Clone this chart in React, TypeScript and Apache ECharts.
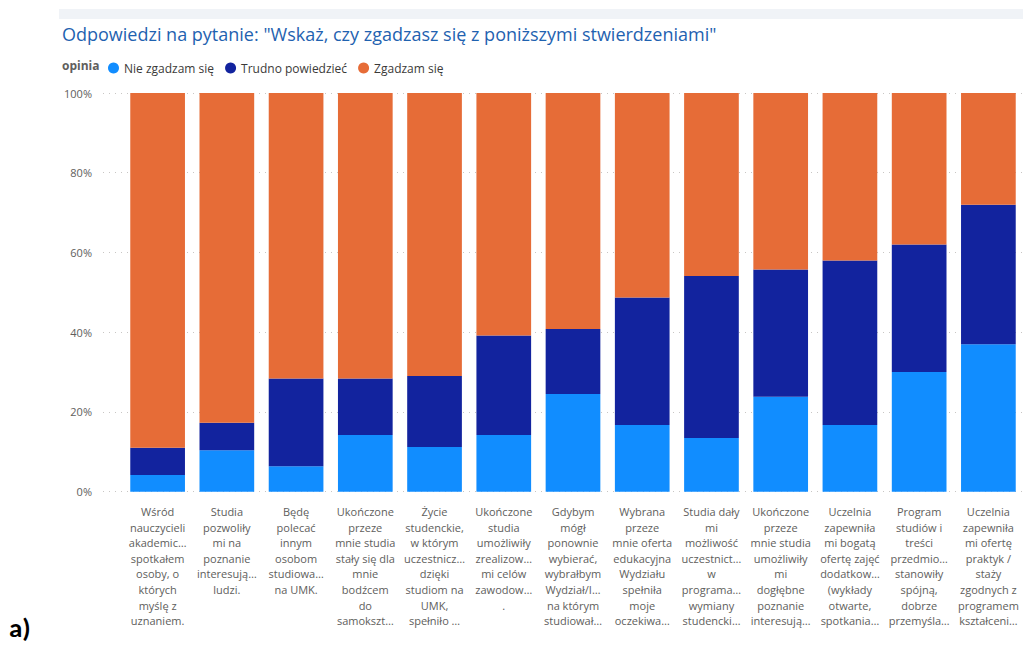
import React, { useEffect, useRef } from "react";
import * as echarts from "echarts";

const categories = [
  "Wśród\nnauczycieli\nakademic…\nspotkałem\nosoby, o\nktórych\nmyślę z\nuznaniem.",
  "Studia\npozwoliły\nmi na\npoznanie\ninteresują…\nludzi.",
  "Będę\npolecać\ninnym\nosobom\nstudiowa…\nna UMK.",
  "Ukończone\nprzeze\nmnie studia\nstały się dla\nmnie\nbodźcem\ndo\nsamokszt…",
  "Życie\nstudenckie,\nw którym\nuczestnicz…\ndzięki\nstudiom na\nUMK,\nspełniło …",
  "Ukończone\nstudia\numożliwiły\nzrealizow…\nmi celów\nzawodow…\n.",
  "Gdybym\nmógł\nponownie\nwybierać,\nwybrałbym\nWydział/I…\nna którym\nstudiował…",
  "Wybrana\nprzeze\nmnie oferta\nedukacyjna\nWydziału\nspełniła\nmoje\noczekiwa…",
  "Studia dały\nmi\nmożliwość\nuczestnict…\nw\nprograma…\nwymiany\nstudencki…",
  "Ukończone\nprzeze\nmnie studia\numożliwiły\nmi\ndogłębne\npoznanie\ninteresują…",
  "Uczelnia\nzapewniła\nmi bogatą\nofertę zajęć\ndodatkow…\n(wykłady\notwarte,\nspotkania…",
  "Program\nstudiów i\ntreści\nprzedmio…\nstanowiły\nspójną,\ndobrze\nprzemyśla…",
  "Uczelnia\nzapewniła\nmi ofertę\npraktyk /\nstaży\nzgodnych z\nprogramem\nkształceni…",
];

const seriesNames = ["Nie zgadzam się", "Trudno powiedzieć", "Zgadzam się"];
const nieZgadzam = [4.2, 10.4, 6.4, 14.2, 11.2, 14.2, 24.5, 16.7, 13.5, 23.8, 16.7, 30.0, 37.0];
const trudno = [6.8, 6.9, 22.0, 14.2, 17.8, 25.0, 16.3, 32.0, 40.6, 31.9, 41.3, 32.0, 35.0];
const zgadzam = [89.0, 82.7, 71.6, 71.6, 71.0, 60.8, 59.2, 51.3, 45.9, 44.3, 42.0, 38.0, 28.0];
const yTicks = [0, 20, 40, 60, 80, 100];

const colors = ["#118DFF", "#12239E", "#E66C37"];
const FONT = "'Segoe UI', 'Open Sans', 'Noto Sans', sans-serif";

export default function App() {
  const ref = useRef<HTMLDivElement>(null);
  useEffect(() => {
    if (!ref.current) return;
    const chart = echarts.init(ref.current, null, { renderer: "svg" });
    const top = 93;
    const height = 398.7;
    chart.setOption({
      animation: false,
      textStyle: { fontFamily: FONT },
      title: {
        text: 'Odpowiedzi na pytanie: "Wskaż, czy zgadzasz się z poniższymi stwierdzeniami"',
        left: 57,
        top: 20,
        textStyle: { color: "#1F62B0", fontSize: 18, fontWeight: "normal", fontFamily: FONT },
      },
      legend: {
        data: seriesNames,
        left: 103,
        top: 57,
        icon: "circle",
        itemWidth: 11,
        itemHeight: 11,
        itemGap: 11,
        textStyle: { color: "#3B3A39", fontSize: 12, fontFamily: FONT },
      },
      graphic: [
        { type: "rect", shape: { x: 59, y: 9, width: 964, height: 10 }, style: { fill: "#F0F3F7" } },
        {
          type: "text",
          x: 62,
          y: 59,
          style: { text: "opinia", fill: "#605E5C", font: `bold 12px ${FONT}` },
        },
        {
          type: "text",
          x: 9,
          y: 614,
          style: { text: "a)", fill: "#000000", font: `bold 27px Carlito, 'Liberation Sans', sans-serif` },
        },
      ],
      grid: [
        { left: 103, right: 0, top, height },
        { left: 123, width: 902, top, height },
      ],
      xAxis: [
        { type: "value", gridIndex: 0, show: false, min: 0, max: 1 },
        {
          type: "category",
          gridIndex: 1,
          data: categories,
          axisLine: { show: false },
          axisTick: { show: false },
          axisLabel: {
            interval: 0,
            margin: 12,
            color: "#605E5C",
            fontSize: 11,
            lineHeight: 15.6,
            fontFamily: FONT,
            align: "center",
            verticalAlign: "top",
          },
        },
      ],
      yAxis: [
        {
          type: "value",
          gridIndex: 0,
          min: 0,
          max: 100,
          interval: 20,
          axisLine: { show: false },
          axisTick: { show: false },
          splitLine: { show: true, lineStyle: { color: "#C8C6C4", type: [1, 5], width: 1 } },
          axisLabel: {
            margin: 11,
            color: "#605E5C",
            fontSize: 11,
            fontFamily: FONT,
            formatter: (v: number) => (yTicks.includes(v) ? `${v}%` : ""),
          },
        },
        {
          type: "value",
          gridIndex: 1,
          min: 0,
          max: 100,
          show: false,
          splitLine: { show: false },
        },
      ],
      series: [
        { name: seriesNames[0], data: nieZgadzam },
        { name: seriesNames[1], data: trudno },
        { name: seriesNames[2], data: zgadzam },
      ].map((s, i) => ({
        type: "bar",
        name: s.name,
        data: s.data,
        stack: "total",
        xAxisIndex: 1,
        yAxisIndex: 1,
        barCategoryGap: "21%",
        itemStyle: { color: colors[i] },
      })),
      color: colors,
    });
    return () => chart.dispose();
  }, []);
  return (
    <div
      ref={ref}
      style={{ position: "fixed", left: 0, top: 0, width: 1023, height: 648, background: "#fff" }}
    />
  );
}
